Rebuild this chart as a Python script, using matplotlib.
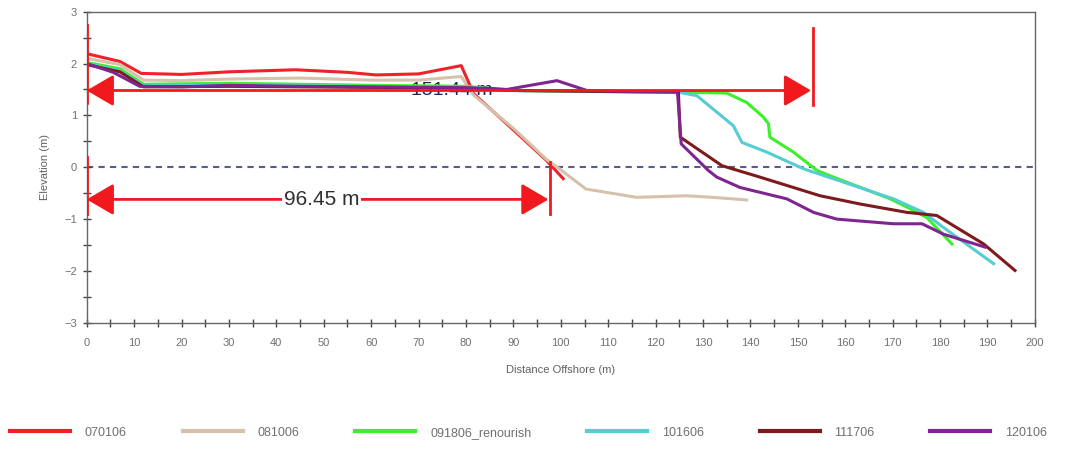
import matplotlib
matplotlib.use("Agg")
import matplotlib.pyplot as plt
from matplotlib.ticker import MultipleLocator

plt.rcParams['font.family'] = ['Liberation Sans', 'DejaVu Sans']

# beach profiles, distance offshore (m) vs elevation (m)
labels = ['070106', '081006', '091806_renourish', '101606', '111706', '120106']
colors = ['#ee2228', '#d6c2aa', '#3cf02a', '#55cdd2', '#7d1a1c', '#7e2590']

x_070106 = [0, 7, 11.5, 20, 30, 44, 55, 61, 70, 79, 81.6, 90, 97, 100.5]
y_070106 = [2.19, 2.04, 1.81, 1.79, 1.84, 1.88, 1.83, 1.78, 1.80, 1.96, 1.42, 0.72, 0.13, -0.22]

x_081006 = [0, 7, 12, 20, 30, 45, 60, 70, 79, 81.5, 90, 97, 100, 105.3, 116, 126.6, 132, 139.2]
y_081006 = [2.1, 1.98, 1.68, 1.67, 1.70, 1.72, 1.68, 1.68, 1.75, 1.40, 0.75, 0.15, -0.05, -0.42, -0.58, -0.55, -0.58, -0.63]

x_091806 = [0, 7, 12, 30, 60, 80, 90, 110, 125, 135, 139.2, 142.7, 143.8, 144.1, 149.1, 154, 157.5, 169.5, 173.7, 177.2, 182.5]
y_091806 = [2.02, 1.9, 1.6, 1.62, 1.58, 1.56, 1.48, 1.46, 1.45, 1.43, 1.25, 0.97, 0.84, 0.58, 0.29, -0.06, -0.19, -0.61, -0.8, -0.97, -1.48]

x_101606 = [0, 7, 12, 30, 60, 80, 90, 110, 125.2, 128.7, 136.4, 138.2, 143.5, 151.2, 161.7, 170.2, 176.5, 180.7, 191.3]
y_101606 = [2.0, 1.86, 1.57, 1.58, 1.56, 1.55, 1.48, 1.46, 1.44, 1.38, 0.8, 0.48, 0.29, -0.03, -0.35, -0.61, -0.87, -1.16, -1.86]

x_111706 = [0, 7, 12, 30, 60, 80, 90, 110, 124.8, 125.2, 134, 142, 154.7, 163.2, 173, 179.3, 189.2, 195.8]
y_111706 = [1.98, 1.84, 1.55, 1.56, 1.54, 1.53, 1.48, 1.46, 1.45, 0.58, 0.03, -0.19, -0.55, -0.71, -0.87, -0.93, -1.48, -1.99]

x_120106 = [0, 5.6, 11.2, 20, 30, 45, 60, 75, 85, 88.6, 99.2, 105.5, 115, 124.6, 125.4, 131.1, 132.9, 137.8, 147.7, 153.3, 158.2, 170.2, 176.2, 180.7, 189.5]
y_120106 = [2.0, 1.83, 1.56, 1.55, 1.58, 1.56, 1.55, 1.54, 1.52, 1.5, 1.67, 1.48, 1.46, 1.46, 0.45, -0.06, -0.19, -0.39, -0.61, -0.87, -1.0, -1.09, -1.09, -1.29, -1.54]

series = [(x_070106, y_070106), (x_081006, y_081006), (x_091806, y_091806),
          (x_101606, y_101606), (x_111706, y_111706), (x_120106, y_120106)]

# width annotations
top_arrow = (0, 152.8, 1.48, '151.44 m')
low_arrow = (0, 97.4, -0.62, '96.45 m')

fig = plt.figure(figsize=(10.68, 4.49), dpi=100)
ax = fig.add_axes([0.0812, 0.281, 0.8878, 0.693])

ax.axhline(0, color='#5a5a8c', lw=1.5, dashes=(3, 2.5), zorder=1)

ax.text(77, 1.48, top_arrow[3], ha='center', va='center', fontsize=14,
        color='#1c2850', zorder=1.5)

order = [1, 2, 3, 4, 5, 0]
for i in order:
    xs, ys = series[i]
    ax.plot(xs, ys, color=colors[i], lw=2.2, zorder=2 + i * 0.1,
            solid_joinstyle='round')

red = '#f01a1e'
for x0, x1, y, txt in [top_arrow, low_arrow]:
    ax.annotate('', xy=(x0, y), xytext=(x1, y),
                arrowprops=dict(arrowstyle='<|-|>,head_length=1.66,head_width=0.97',
                                color=red, lw=2, shrinkA=0, shrinkB=0,
                                mutation_scale=10), zorder=3)
# end bars
ax.plot([0, 0], [1.23, 2.74], color=red, lw=2, zorder=3)
ax.plot([top_arrow[1] + 0.4] * 2, [1.2, 2.68], color=red, lw=2, zorder=3)
ax.plot([0, 0], [-0.9, 0.19], color=red, lw=2, zorder=3)
ax.plot([low_arrow[1] + 0.3] * 2, [-0.9, 0.1], color=red, lw=2, zorder=3)

ax.text(49.5, -0.62, low_arrow[3], ha='center', va='center', fontsize=15,
        color='#303030', zorder=4,
        bbox=dict(facecolor='white', edgecolor='none', pad=1))

ax.set_xlim(0, 200)
ax.set_ylim(-3, 3)
ax.xaxis.set_major_locator(MultipleLocator(10))
ax.xaxis.set_minor_locator(MultipleLocator(5))
ax.yaxis.set_major_locator(MultipleLocator(1))
ax.yaxis.set_minor_locator(MultipleLocator(0.5))
ax.tick_params(which='both', direction='inout', length=6, width=1,
               color='#444444', labelsize=8, labelcolor='#707070')
ax.tick_params(axis='x', pad=8)
ax.tick_params(axis='y', pad=4)
for s in ax.spines.values():
    s.set_color('#666666')
    s.set_linewidth(1)

ax.set_xlabel('Distance Offshore (m)', fontsize=8, color='#606060', labelpad=12)
ax.set_ylabel('Elevation (m)', fontsize=8, color='#606060', labelpad=10)

leg_handles = [plt.Line2D([], [], color=c, lw=3) for c in colors]
fig.legend(leg_handles, labels, loc='center', bbox_to_anchor=(0.495, 0.036),
           ncol=6, frameon=False, fontsize=9, handlelength=4.8,
           handletextpad=1.2, columnspacing=4.45, labelcolor='#707070')

fig.savefig('out.png', dpi=100)
